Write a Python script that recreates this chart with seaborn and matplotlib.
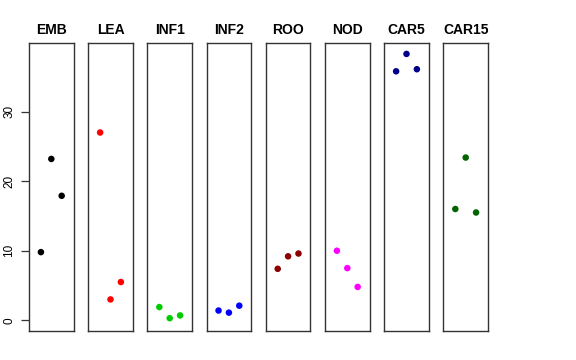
"""
    expression strip panels per tissue
"""

import matplotlib
matplotlib.use('Agg')
import matplotlib.pyplot as plt
import numpy as np
import pandas as pd
import seaborn as sns

tissues = ['EMB', 'LEA', 'INF1', 'INF2', 'ROO', 'NOD', 'CAR5', 'CAR15']
colors = ['black', 'red', '#00CD00', 'blue', '#8B0000', '#FF00FF', '#00008B', '#006400']

emb = [9.8, 23.2, 17.9]
lea = [27.0, 3.0, 5.5]
inf1 = [1.9, 0.3, 0.7]
inf2 = [1.4, 1.1, 2.1]
roo = [7.4, 9.2, 9.6]
nod = [10.0, 7.5, 4.8]
car5 = [35.8, 38.3, 36.1]
car15 = [16.0, 23.4, 15.5]
reps = [1, 2, 3]

values = [emb, lea, inf1, inf2, roo, nod, car5, car15]
rows = []
for t, v in zip(tissues, values):
    for r, y in zip(reps, v):
        rows.append({'tissue': t, 'rep': r, 'value': y})
df = pd.DataFrame(rows)

sns.set_style('white')
plt.rcParams['font.family'] = ['Liberation Sans', 'DejaVu Sans']
plt.rcParams['text.color'] = 'black'
plt.rcParams['ytick.color'] = 'black'

fig, axes = plt.subplots(1, 8, figsize=(5.76, 3.6), dpi=100, sharey=True)
fig.subplots_adjust(left=29/576, right=488/576, top=1-43/360, bottom=1-331/360, wspace=0.327)

for ax, t, c in zip(axes, tissues, colors):
    sns.scatterplot(data=df[df.tissue == t], x='rep', y='value', color=c, s=22,
                    edgecolor='none', ax=ax)
    ax.set_xlim(-0.15, 4.15)
    ax.set_ylim(-1.54, 39.87)
    ax.set_title(t, fontsize=10, fontweight='bold', pad=6.5, color='black')
    ax.set_xlabel('')
    ax.set_ylabel('')
    ax.set_xticks([])
    for sp in ax.spines.values():
        sp.set_visible(True)
        sp.set_color('#333333')
        sp.set_linewidth(1.0)

axes[0].set_yticks([0, 10, 20, 30])
axes[0].tick_params(axis='y', left=True, length=5.8, width=0.9, color='#333333',
                    labelcolor='black', labelsize=8.5, pad=4, labelrotation=90)
for lbl in axes[0].get_yticklabels():
    lbl.set_va('center')
for ax in axes[1:]:
    ax.tick_params(axis='y', left=False, labelleft=False)

plt.savefig('out.png', dpi=100)
